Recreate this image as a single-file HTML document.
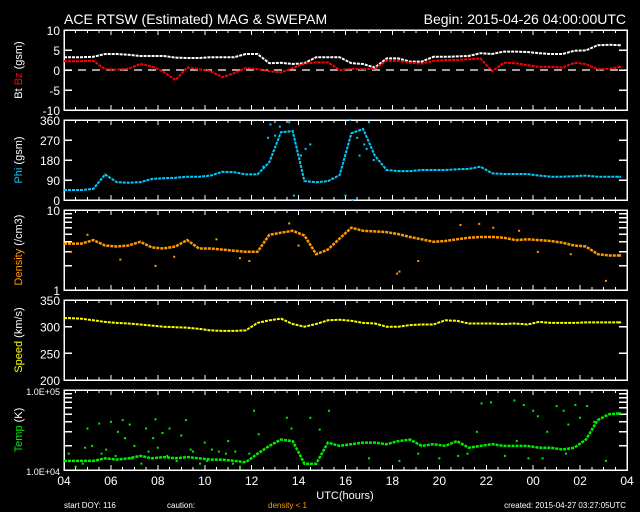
<!DOCTYPE html>
<html><head><meta charset="utf-8">
<style>
html,body{margin:0;padding:0;background:#000;}
svg{display:block;font-family:"Liberation Sans",sans-serif;}
</style></head>
<body>
<svg id="chart" width="640" height="512" viewBox="0 0 640 512">
<rect width="640" height="512" fill="#000"/>
<text x="64" y="24" fill="#fff" font-size="14">ACE RTSW (Estimated) MAG &amp; SWEPAM</text>
<text x="626" y="24" fill="#fff" font-size="14" text-anchor="end">Begin: 2015-04-26 04:00:00UTC</text>
<text x="345" y="499" fill="#fff" font-size="11" text-anchor="middle">UTC(hours)</text>
<text x="64" y="508" fill="#fff" font-size="8">start DOY: 116</text>
<text x="167" y="508" fill="#fff" font-size="8">caution:</text>
<text x="268" y="508" fill="#ff9900" font-size="8">density &lt; 1</text>
<text x="626" y="508" fill="#fff" font-size="8" text-anchor="end">created: 2015-04-27 03:27:05UTC</text>
<g id="layer"></g>
</svg>
<script>
// hours since 04:00 UTC, half-hour samples
const btValues = [3.2,3.2,3.3,4,4,3.8,3.5,3.5,3.5,3.1,3,3,3.2,3.2,3.2,4,4,1.7,1.8,1.5,1.7,3.2,3.2,3.2,1.7,1.5,0.6,2.9,2.9,2.1,2.1,3.3,3.3,3.4,3.5,4.2,4,4.6,4.6,4.5,4.2,4,4,4.8,4.9,6.2,6.3,6.2];
const bzValues = [2.2,2.2,2.3,0.2,0.1,0.3,1.5,0.9,-0.5,-2.5,0.6,0.2,-0.3,-1.8,-0.8,0.5,0.2,-0.3,-0.6,0.5,1.6,1.9,1.9,0.0,0.3,0.2,0.3,2.3,2.3,1.8,1.6,2.3,2.5,2.5,2.7,2.9,-0.3,1.8,1.7,1.2,0.8,0.8,0.6,1.8,1.5,0.2,0.3,0.8];
const phiValues = [45,45,50,115,80,78,80,95,98,100,105,105,110,127,125,115,115,170,305,310,85,80,85,112,300,320,200,135,130,130,135,135,135,138,140,150,120,117,117,117,110,105,105,107,110,105,105,105];
const phiScatterT = [8.5,8.7,8.8,9.2,9.6,9.8,10.1,10.3,10.5,12.0,12.2,12.5,12.8,13.0,12.3,12.6,13.2,9.0,12.9];
const phiScatterV = [150,280,340,330,350,20,200,230,250,20,360,280,250,350,0,200,180,290,230];
const densityValues = [3.8,3.8,4.2,3.6,3.5,3.6,4.0,3.4,3.3,3.5,4.2,3.3,3.3,3.2,3.1,3.0,3.0,4.9,5.2,5.5,4.8,2.8,3.2,4.4,6.0,5.5,5.4,5.3,5.0,4.6,4.3,4.0,4.1,4.3,4.5,4.6,4.6,4.5,4.2,4.3,4.2,4.1,3.9,3.6,3.5,2.8,2.7,2.7];
const densityScatterT = [1.0,2.4,3.9,6.5,7.5,9.6,10.0,14.2,14.3,15.1,16.9,17.7,18.3,19.4,20.2,21.6,23.1,0.3,4.7,7.9];
const densityScatterV = [4.9,2.4,2.0,4.3,2.5,6.8,3.6,1.6,1.7,2.3,6.5,6.7,6.0,5.5,3.0,2.8,1.3,3.0,2.6,2.3];
const speedValues = [316,315,312,309,307,306,304,302,300,299,298,296,293,292,292,293,307,312,315,305,300,305,312,313,311,307,306,300,300,303,304,304,312,311,306,306,306,305,306,304,309,307,307,307,308,308,308,308];
const tempValues = [1.3,1.3,1.3,1.4,1.35,1.4,1.5,1.4,1.45,1.4,1.45,1.4,1.35,1.35,1.3,1.25,1.6,2.0,2.4,2.3,1.2,1.2,2.2,2.0,2.1,2.2,2.2,2.1,2.3,2.4,2.0,2.1,2.0,2.3,1.9,2.0,2.1,2.0,2.0,2.0,1.9,1.9,1.8,1.9,2.4,4.2,5.0,5.1];
const tempScatterT = [0.5,1,1.2,1.5,2,2.3,2.5,2.6,2.8,3,3.5,3.8,3.9,4.2,4.5,5,5.2,5.5,6,6.3,7,7.3,7.5,7.9,8.1,8.3,9.5,9.7,10.5,10.9,11.3,13,14.3,15.1,16,17.2,17.6,19.3,20.4,21,21.3,21.5,21.8,22.0,22.3,22.6,23.1,17.8,18.2,19.2,19.6,20.0,20.2,20.6,18.8,19.8,21.4,16.8,0.2,0.8,1.8,2.2,3.3,4.0,4.8,5.8,6.6,7.2,0.9,1.6,2.9,3.6,4.4,5.4,6.1,6.9];
const tempScatterV = [1.1,3.3,2.0,3.8,4,3.0,4.2,2.5,3.7,2.0,3.3,2.5,4.3,2.9,3.3,2.7,4.2,1.7,2.2,1.8,2.3,1.7,1.1,1.6,5.5,2.8,4.5,3.3,4.5,3.2,5.5,1.4,1.3,1.6,1.4,1.6,3.0,2.3,1.4,6.3,5.5,3.7,6.5,4.5,6.3,4.0,1.3,6.8,7.0,7.4,6.5,5.5,4.7,3.0,1.5,1.4,1.6,1.5,1.6,1.2,1.8,1.5,1.2,1.9,1.3,1.2,1.7,1.2,1.9,1.6,1.4,1.7,1.5,1.8,1.3,1.6];
const hourLabels = ["04","06","08","10","12","14","16","18","20","22","00","02","04"];

const NS = "http://www.w3.org/2000/svg";
const layer = document.getElementById('layer');
const X0 = 64, X1 = 627;
const xScale = t => X0 + (X1 - X0) * t / 24;
const times = btValues.map((_, i) => i * 0.5);
function el(tag, attrs, parent) {
  const e = document.createElementNS(NS, tag);
  for (const k in attrs) e.setAttribute(k, attrs[k]);
  (parent || layer).appendChild(e);
  return e;
}
const panels = [
  {name:'bt-bz-panel', top:30, min:-10, max:10, log:false},
  {name:'phi-panel', top:120, min:0, max:360, log:false},
  {name:'density-panel', top:210, min:1, max:10, log:true},
  {name:'speed-panel', top:300, min:200, max:350, log:false},
  {name:'temp-panel', top:390, min:1e4, max:1e5, log:true}
];
const H = 80;
function yScale(p, v) {
  let f = p.log ? (Math.log10(v) - Math.log10(p.min)) / (Math.log10(p.max) - Math.log10(p.min)) : (v - p.min) / (p.max - p.min);
  return p.top + H - f * H;
}
function drawFrame(p, ticks, labels, rightTicks, minor) {
  const g = el('g', {});
  
  
  const r = el('rect', {x:X0, y:p.top, width:X1 - X0, height:H, fill:'none', stroke:'#fff', 'stroke-width':1.5, 'shape-rendering':'crispEdges'}, g);
  
  
  for (let k = 0; k <= 48; k++) {
    const x = xScale(k * 0.5);
    const len = (k % 4 === 0) ? 5 : 3;
    el('line', {x1:x, x2:x, y1:p.top, y2:p.top + len, stroke:'#fff', 'stroke-width':1, 'shape-rendering':'crispEdges'}, g);
    el('line', {x1:x, x2:x, y1:p.top + H, y2:p.top + H - len, stroke:'#fff', 'stroke-width':1, 'shape-rendering':'crispEdges'}, g);
  }
  ticks.forEach((v, i) => {
    const y = yScale(p, v);
    el('line', {x1:X0, x2:X0 + 8, y1:y, y2:y, stroke:'#fff', 'stroke-width':1.5, 'shape-rendering':'crispEdges'}, g);
    if (rightTicks) el('line', {x1:X1 - 8, x2:X1, y1:y, y2:y, stroke:'#fff', 'stroke-width':1.5, 'shape-rendering':'crispEdges'}, g);
    if (labels[i] !== '') {
      const t = el('text', {x:X0 - 4, y:y + 5, fill:'#fff', 'font-size': p.name === 'temp-panel' ? 9 : 12, 'text-anchor':'end'}, g);
      t.textContent = labels[i];
      
      
    }
  });
  (minor || []).forEach(v => {
    const y = yScale(p, v);
    el('line', {x1:X0, x2:X0 + 8, y1:y, y2:y, stroke:'#fff', 'stroke-width':1.5, 'shape-rendering':'crispEdges'}, g);
    el('line', {x1:X1 - 8, x2:X1, y1:y, y2:y, stroke:'#fff', 'stroke-width':1.5, 'shape-rendering':'crispEdges'}, g);
  });
}
drawFrame(panels[0], [10,5,0,-5,-10], ['10','5','0','-5','-10'], true);
drawFrame(panels[1], [360,270,180,90,0], ['360','270','180','90','0'], true);
drawFrame(panels[2], [10,1], ['10','1'], false, [2,3,4,5,6,7,8,9]);
drawFrame(panels[3], [350,300,250,200], ['350','300','250','200'], true);
drawFrame(panels[4], [1e5,1e4], ['1.0E+05','1.0E+04'], false, [2e4,3e4,4e4,5e4,6e4,7e4,8e4,9e4]);

const zl = el('line', {x1:X0, x2:X1, y1:yScale(panels[0],0), y2:yScale(panels[0],0), stroke:'#fff', 'stroke-width':1.2, 'stroke-dasharray':'8,6'});



function series(p, vals, color, name, scale, width) {
  const g = el('g', {});
  
  
  let d = '';
  vals.forEach((v, i) => {
    const x = xScale(times[i] + 0.25);
    const y = yScale(p, v * (scale || 1));
    d += (i === 0 ? 'M' + xScale(0).toFixed(1) + ' ' + y.toFixed(1) + ' L' : 'L') + x.toFixed(1) + ' ' + y.toFixed(1) + ' ';
    if (i === vals.length - 1) d += 'L' + xScale(23.6).toFixed(1) + ' ' + y.toFixed(1);
  });
  el('path', {d:d, fill:'none', stroke:color, 'stroke-width':width || 2, 'stroke-dasharray':'3,1'}, g);
}
function scatter(p, ts, vs, color, name, scale) {
  const g = el('g', {});
  
  
  ts.forEach((t, i) => {
    const r = el('rect', {x:xScale(t) - 1, y:yScale(p, vs[i] * (scale || 1)) - 1, width:2, height:2, fill:color}, g);
    
    
  });
}
series(panels[0], btValues, '#ffffff', 'bt-series');
series(panels[0], bzValues, '#ff0000', 'bz-series');
series(panels[1], phiValues, '#00ccff', 'phi-series');
scatter(panels[1], phiScatterT, phiScatterV, '#00ccff', 'phi-scatter');
series(panels[2], densityValues, '#ff9900', 'density-series', 1, 2.5);
scatter(panels[2], densityScatterT, densityScatterV, '#ff9900', 'density-scatter');
series(panels[3], speedValues, '#ffff00', 'speed-series');
series(panels[4], tempValues, '#00ee00', 'temp-series', 1e4, 2.5);
scatter(panels[4], tempScatterT, tempScatterV, '#00ee00', 'temp-scatter', 1e4);

hourLabels.forEach((h, i) => {
  const t = el('text', {x:xScale(i * 2), y:485, fill:'#fff', 'font-size':12, 'text-anchor':'middle'});
  t.textContent = h;
  
  
});

function ytitle(cy, parts, name) {
  const t = el('text', {x:0, y:0, 'font-size':11, 'text-anchor':'middle', transform:'translate(22,' + cy + ') rotate(-90)'});
  
  
  parts.forEach(([s, c]) => { const sp = el('tspan', {fill:c}, t); sp.textContent = s; });
}
ytitle(70, [['Bt ', '#fff'], ['Bz', '#ff0000'], ['  (gsm)', '#fff']], 'bt-bz-axis-title');
ytitle(160, [['Phi', '#00ccff'], ['  (gsm)', '#fff']], 'phi-axis-title');
ytitle(250, [['Density', '#ff9900'], ['  (/cm3)', '#fff']], 'density-axis-title');
ytitle(340, [['Speed', '#ffff00'], ['  (km/s)', '#fff']], 'speed-axis-title');
ytitle(430, [['Temp', '#00ee00'], ['  (K)', '#fff']], 'temp-axis-title');
</script>
</body></html>
